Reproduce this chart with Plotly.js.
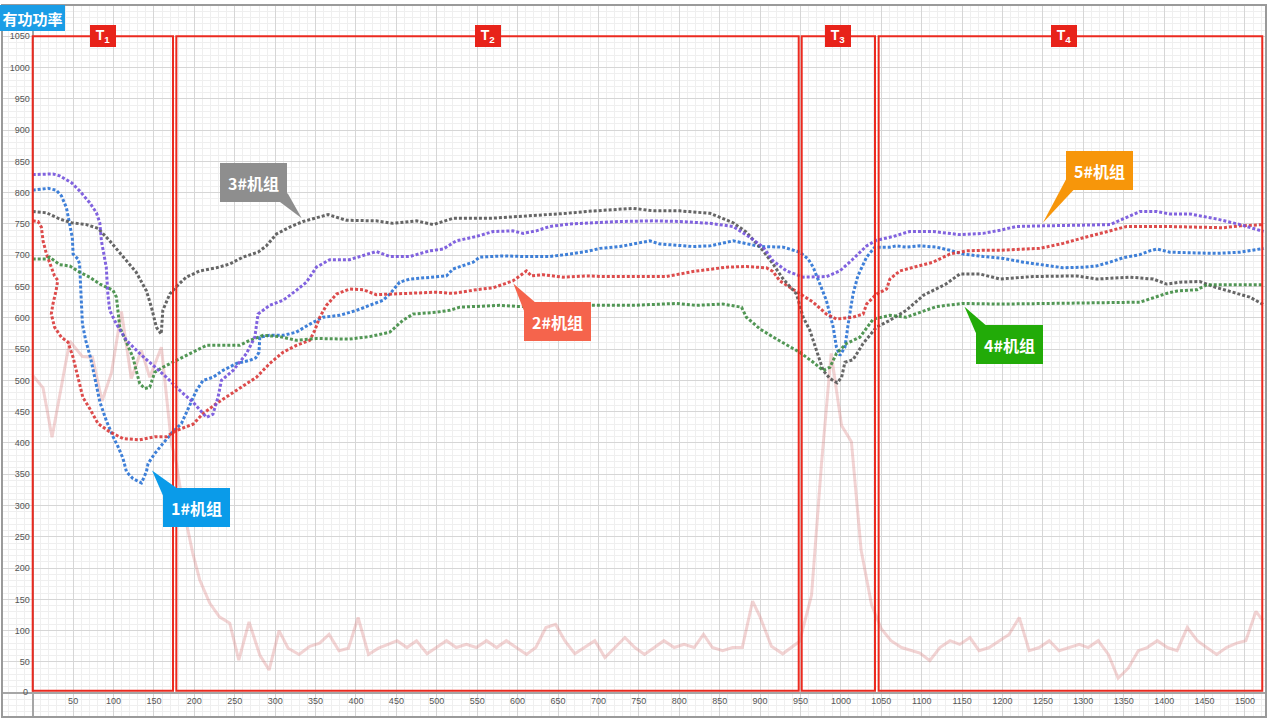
<!DOCTYPE html>
<html>
<head>
<meta charset="utf-8">
<script src="https://cdn.plot.ly/plotly-3.0.1.min.js"></script>
<style>html,body{margin:0;padding:0;background:#fff;}#chart{width:1268px;height:723px;}</style>
</head>
<body>
<div id="chart"></div>
<script>
// ---------- data ----------
const loadX = [0,12.8,23.9,45.8,61.5,73.9,85.8,97.4,109.8,122,134.5,144.8,159.2,171.6,177.8,186,198,206.7,219,231,243.8,255,267.7,281,292.5,304.8,316,329.6,342.8,355,366.7,379,390.7,402.6,415.5,427.8,439.7,450.9,463,474.9,488,512,524,536.7,549,561.5,574,586,611,622.5,635,647,658.4,670.8,695.5,708,732.7,745,757,781,793.7,806,818.4,830,841,853.6,866,878,890.7,900,914,928,949,963.7,976,988,1000.8,1013,1025,1038,1050,1062,1075,1097.8,1110,1122.5,1135,1147,1159.7,1171,1183.5,1196,1208,1220.7,1233,1245.4,1257.8,1270,1282.5,1295,1306,1318.4,1331,1343,1355.6,1368,1379,1391.5,1404,1416,1428.6,1441,1452.6,1465,1477,1489.7,1501,1513.6,1522];
const loadY = [508,488,409,563,538,537,467,512,610,503,548,505,553,400,367,298,224,181,144,122,112,53,114,61,37,100,72,62,75,80,94,68,72,121,62,72,78,84,73,84,63,84,73,78,73,84,73,84,62,73,105,110,84,63,84,57,89,73,62,84,73,78,73,94,73,68,73,73,147,122,75,63,83,157,367,543,428,402,229,141,103,84,73,64,52,73,84,78,89,68,73,84,94,121,68,73,84,68,73,78,73,84,62,24,40,68,73,84,73,68,105,84,73,62,73,80,84,131,116];

const unit1X = [0,19,29,35.5,41.7,45.8,49,50,56,58,59.4,61.5,65.6,71.4,76.7,83,91,99.4,105.6,111.8,116,124,134.5,140.7,142.7,151,161,173.6,184,190,197,202.6,210.8,223,235.5,252,268.6,276,280,281,293,310,326,343,359,380,400.6,417,433.5,441.8,454,466.6,499.6,512,520,532.5,545,553,582,607,640,665,689,701.7,726.5,763.6,776,817,838,866.7,883,900,928.6,949,959.5,965.7,974,982,990.5,994.5,998.8,1005,1009,1015,1021,1031.8,1042,1060.6,1069,1081,1097.8,1118,1135,1151,1176,1201,1225.7,1250,1275,1300,1316.5,1333,1349,1370,1382,1391,1407,1432,1465,1494,1523];
const unit1Y = [804,807,804,795,776,752,728,702,694,686,643,590,564,537,505,466,436,410,394,375,354,343,336,354,367,383,399,418,431,447,468,484,500,505,516,527,532,536,545,569,572,572,577,590,601,604,612,620,628,638,657,662,665,667,678,683,689,697,699,698,698,702,707,711,714,723,718,714,715,723,718,714,713,705,694,681,654,628,585,553,540,553,590,638,667,697,713,713,715,713,715,713,708,702,698,695,689,685,680,681,683,689,696,701,707,710,705,704,703,705,711];

const unit2X = [0,6.6,10.7,12.8,17,23,27,31,29,25,23,27,35.5,43.7,49.9,56,62,70.5,80.8,95,111.8,132.4,151,165.5,178,198.4,210.8,227.3,252,276.8,293.3,309.8,326.3,342.8,349,355.2,363.4,375.9,392,408.8,425,458,499.6,520,549,569.7,582,594,602.7,611,617,631.6,656,685,705.8,784,817,858.5,883,907.8,916,924.5,936.6,949,965.7,982,994.5,1015,1027.5,1031.8,1044,1056.6,1060.6,1073,1097.8,1114,1135,1155.5,1176,1196.8,1246,1275,1300,1333,1353.6,1403,1473,1494,1523];
const unit2Y = [755,754,745,723,702,681,667,660,644,622,606,585,569,561,537,505,473,455,431,418,407,405,410,410,420,430,447,463,484,505,527,545,556,564,580,601,620,638,646,645,637,639,641,639,645,648,654,659,667,675,667,669,665,667,666,666,674,681,682,680,674,659,649,639,625,606,598,601,606,622,638,646,662,675,683,689,702,707,708,708,711,719,728,739,746,746,744,747,749];

const unit3X = [0,17,33.4,47.9,66.5,80.8,95.3,111.8,128,140.7,146.9,153,159,161,169.6,177.8,190,206.7,227.3,243.8,260,278.8,289,301.6,318,334.5,351,365.5,388,425,446,474.9,495.5,520,565.6,602.7,644,660.5,685,726.5,743,767.7,800.7,838,866.7,883,903.8,916,928.6,945,953.3,961.6,969.9,978,986.4,995.4,1000.9,1005,1015,1027.5,1044,1060.6,1081,1102,1130,1147,1172,1196.8,1238,1291.7,1316.5,1357.7,1386.6,1403,1419.6,1444,1460.6,1485,1506,1523];
const unit3Y = [770,768,758,752,749,743,723,697,673,643,617,585,574,612,638,650,665,675,680,686,697,705,715,734,745,754,760,765,756,755,751,755,749,759,759,762,766,767,770,774,775,771,771,767,752,737,707,686,662,638,601,580,548,516,503,496,505,529,533,559,585,596,612,636,654,670,670,662,666,667,662,665,662,654,657,658,650,641,633,621];

const unit4X = [0,17,21,33.4,45.8,58,70.5,83,99.4,103.6,107.7,116,124,128,132.4,138.6,144.8,151,161,177.8,194.3,215,239.7,256,268.6,285,305.7,326.3,351,392,417,441.8,458,470.7,499.6,516,528.5,553,578,602.7,644,685,743,796.7,821.4,854,877,883,900,920.4,949,965.7,978,986.4,994.5,1007,1023.5,1040,1060.6,1081,1097.8,1118,1151,1196.8,1258.7,1370,1403,1416,1440.8,1453,1523];
const unit4Y = [694,694,697,685,683,673,665,654,644,633,585,559,537,516,495,487,489,513,521,532,543,556,556,556,564,572,570,564,567,566,570,577,596,606,609,612,617,618,620,618,618,620,620,623,620,622,617,601,582,566,545,529,516,521,543,559,569,598,604,601,609,618,623,622,623,625,639,643,645,653,653];

const unit5X = [0,25,33.4,48,58,70.5,78.8,83,85,91,93,95.3,103.6,116,132.4,149,165.5,182,198.4,215,223,229.3,233.5,248,264.5,274.8,278.8,293.3,309.8,326.3,338.7,351,367.6,392,408.8,425,441.8,466.6,491,508,524,549,569.7,594,606.8,623,640,664.6,726.5,767.7,800.7,838,866.7,887,903.8,916,932.7,953.3,982.3,998.8,1015,1031.8,1044,1064.7,1085,1114,1147,1176,1196.8,1217,1250,1333,1349,1370,1390.7,1407,1432,1465,1494,1523];
const unit5Y = [829,830,827,816,803,784,768,752,723,681,638,612,590,564,543,524,505,484,465,441,446,473,500,516,543,569,606,620,628,644,657,681,693,693,699,706,698,698,707,710,723,730,738,739,735,739,746,750,754,755,754,751,746,729,713,691,675,665,666,675,694,715,724,730,738,738,733,735,740,746,747,749,758,770,770,766,766,758,749,738];

const unitNames = ['1#机组','2#机组','3#机组','4#机组','5#机组'];
const periodNames = ['T<sub>1</sub>','T<sub>2</sub>','T<sub>3</sub>','T<sub>4</sub>'];
const periodStart = [0, 177.7, 951.5, 1046.7];
const periodEnd = [173.6, 947.8, 1042.2, 1521.4];
const periodLabelX = [87, 563, 997, 1276];
const periodTop = 1050;
const periodBottom = 4;

const xTickVals = [50,100,150,200,250,300,350,400,450,500,550,600,650,700,750,800,850,900,950,1000,1050,1100,1150,1200,1250,1300,1350,1400,1450,1500];
const xTickText = ['50','100','150','200','250','300','350','400','450','500','550','600','650','700','750','800','850','900','950','1000','1050','1100','1150','1200','1250','1300','1350','1400','1450','1500'];
const yTickVals = [50,100,150,200,250,300,350,400,450,500,550,600,650,700,750,800,850,900,950,1000,1050];
const yTickText = ['50','100','150','200','250','300','350','400','450','500','550','600','650','700','750','800','850','900','950','1000','1050'];
const originLabel = '0';

// label anchor points on the curves
const labelX = [147.6, 594.7, 332.8, 1153, 1250];
const labelY = [356, 655, 759, 617.7, 752];

// ---------- style ----------
const lineColors = ['#2a72d4','#d93838','#555555','#3f8c42','#7352dc'];
const boxColors = ['#0a9be9','#f5644c','#8e8e8e','#22ab08','#f7960a'];
const boxOffsets = [[44.5,37.5],[44,38],[-48,-36],[44.7,37.3],[56.7,-52]];
const pointerPaths = [
  'M0,0 L11,-25 L26,-18.5 Z',
  'M0,0 L10.5,-27 L22,-19 Z',
  'M0,0 L-24,18 L-14,25 Z',
  'M0,0 L11.2,-26 L21,-18.3 Z',
  'M0,0 L23.4,44 L31,33.3 Z'
];

const xRange = [-38, 1526];
const yRange = [-38, 1100];

const seriesX = [unit1X, unit2X, unit3X, unit4X, unit5X];
const seriesY = [unit1Y, unit2Y, unit3Y, unit4Y, unit5Y];

const traces = [{
  x: loadX, y: loadY, type: 'scatter', mode: 'lines',
  line: {color: 'rgba(220,140,140,0.38)', width: 3},
  hoverinfo: 'skip', showlegend: false
}];
for (let i = 0; i < 5; i++) {
  traces.push({
    x: seriesX[i], y: seriesY[i], type: 'scatter', mode: 'lines', name: unitNames[i],
    line: {color: lineColors[i], width: 3, dash: '3px,2px'},
    opacity: 0.9, showlegend: false
  });
}

const shapes = [];
for (let i = 0; i < periodStart.length; i++) {
  shapes.push({type: 'rect', xref: 'x', yref: 'y', x0: periodStart[i], x1: periodEnd[i],
    y0: periodBottom, y1: periodTop, line: {color: '#ec2a1f', width: 2}, layer: 'above'});
}
for (let i = 0; i < 5; i++) {
  shapes.push({type: 'path', xref: 'x', yref: 'y', xsizemode: 'pixel', ysizemode: 'pixel',
    xanchor: labelX[i], yanchor: labelY[i], path: pointerPaths[i],
    fillcolor: boxColors[i], line: {width: 0}, layer: 'above'});
}
shapes.push({type: 'rect', xref: 'paper', yref: 'paper', x0: 0, x1: 1, y0: 0, y1: 1,
  line: {color: '#9a9a9a', width: 2}, layer: 'above'});

const annotations = [];
for (let i = 0; i < periodNames.length; i++) {
  annotations.push({x: periodLabelX[i], y: periodTop, xref: 'x', yref: 'y', text: '<b>' + periodNames[i] + '</b>',
    showarrow: false, bgcolor: '#e8231a', font: {color: '#ffffff', size: 14, family: 'Liberation Sans, Arial'},
    width: 24, height: 20, borderpad: 1, borderwidth: 0, xanchor: 'center', yanchor: 'middle'});
}
for (let i = 0; i < 5; i++) {
  annotations.push({x: labelX[i], y: labelY[i], xref: 'x', yref: 'y', text: '<b>' + unitNames[i] + '</b>',
    showarrow: true, arrowcolor: 'rgba(0,0,0,0)', arrowwidth: 0.1, arrowhead: 0,
    ax: boxOffsets[i][0], ay: boxOffsets[i][1],
    bgcolor: boxColors[i], font: {color: '#ffffff', size: 16, family: 'Noto Sans CJK SC'},
    width: 63, height: 35, borderpad: 2, borderwidth: 0});
}
annotations.push({x: 0, y: 1, xref: 'paper', yref: 'paper', xanchor: 'left', yanchor: 'top', xshift: -2,
  text: '<b>有功功率</b>', showarrow: false, bgcolor: '#1a9de6',
  font: {color: '#ffffff', size: 15, family: 'Noto Sans CJK SC'},
  width: 63, height: 24, borderpad: 1, borderwidth: 0});
// origin tick label (shared by both axes)
annotations.push({x: 0, y: 0, xref: 'x', yref: 'y', text: originLabel, showarrow: false,
  xanchor: 'right', yanchor: 'middle', xshift: -3, yshift: 1,
  font: {family: 'Liberation Sans, Arial', size: 9, color: '#555'}});

const layout = {
  width: 1268, height: 723,
  margin: {l: 2, r: 2, t: 5, b: 6},
  paper_bgcolor: '#ffffff', plot_bgcolor: '#ffffff',
  showlegend: false,
  xaxis: {
    range: xRange, anchor: 'free', position: (0 - yRange[0]) / (yRange[1] - yRange[0]),
    tickmode: 'array', tickvals: xTickVals, ticktext: xTickText,
    ticks: '', ticklabelstandoff: 1,
    tickfont: {family: 'Liberation Sans, Arial', size: 9, color: '#555'},
    showgrid: true, gridcolor: '#d6d6d6', gridwidth: 1,
    minor: {tickmode: 'linear', tick0: 0, dtick: 10, showgrid: true, gridcolor: '#efefef', gridwidth: 1},
    zeroline: true, zerolinecolor: '#a6a6a6', zerolinewidth: 2,
    showline: false, fixedrange: true
  },
  yaxis: {
    range: yRange, anchor: 'free', position: (0 - xRange[0]) / (xRange[1] - xRange[0]),
    tickmode: 'array', tickvals: yTickVals, ticktext: yTickText,
    ticks: '', ticklabelstandoff: 3,
    tickfont: {family: 'Liberation Sans, Arial', size: 9, color: '#555'},
    showgrid: true, gridcolor: '#d6d6d6', gridwidth: 1,
    minor: {tickmode: 'linear', tick0: 0, dtick: 10, showgrid: true, gridcolor: '#efefef', gridwidth: 1},
    zeroline: true, zerolinecolor: '#a6a6a6', zerolinewidth: 2,
    showline: false, fixedrange: true
  },
  shapes: shapes,
  annotations: annotations
};

Plotly.newPlot('chart', traces, layout, {staticPlot: true, displayModeBar: false});
</script>
</body>
</html>
